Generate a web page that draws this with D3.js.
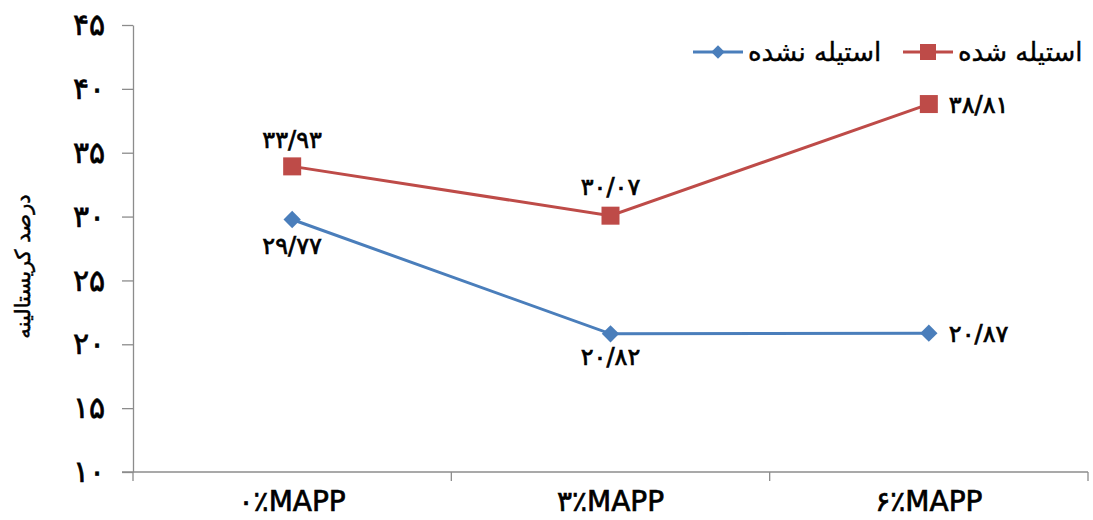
<!DOCTYPE html>
<html>
<head>
<meta charset="utf-8">
<script src="https://cdn.jsdelivr.net/npm/d3@7"></script>
<style>
  body { margin: 0; background: #fff; }
  svg { display: block; font-family: "DejaVu Sans", sans-serif; }
  .axis path, .axis line { stroke: #8c8c8c; stroke-width: 1.3; }
  .lbl { fill: #000; stroke: #000; stroke-width: 0.7; }
</style>
</head>
<body>
<svg id="chart" width="1093" height="520"></svg>
<script>
// categories and series
var categories = ['0%MAPP', '3%MAPP', '6%MAPP'];
var seriesNames = ['استیله نشده', 'استیله شده'];
var notAcetylated = [29.77, 20.82, 20.87];
var acetylated = [33.93, 30.07, 38.81];
var yTicks = [10, 15, 20, 25, 30, 35, 40, 45];
var yTitle = 'درصد کریستالینه';

// english digits -> persian digits
function fa(s) {
    return String(s).replace(/[0-9]/g, function (d) { return '۰۱۲۳۴۵۶۷۸۹'[+d]; })
        .replace('%', '٪').replace('.', '/');
}
function faNum(v) { return fa(v.toFixed(2)); }

var margin = {top: 25, right: 5, bottom: 48, left: 133};
var width = 1093, height = 520;

var svg = d3.select('#chart');

var x = d3.scaleBand()
    .domain(categories)
    .range([margin.left, width - margin.right]);

var y = d3.scaleLinear()
    .domain([10, 45])
    .range([height - margin.bottom, margin.top]);

// y axis
var yAxis = svg.append('g')
    .attr('class', 'axis')
    .attr('transform', 'translate(' + margin.left + ',0)')
    .call(d3.axisLeft(y).tickValues(yTicks).tickSize(11).tickSizeOuter(0).tickPadding(17)
        .tickFormat(function (d) { return fa(d); }));
yAxis.selectAll('text')
    .attr('class', 'lbl')
    .attr('font-size', 30);

// x axis
var xAxis = svg.append('g')
    .attr('class', 'axis')
    .attr('transform', 'translate(0,' + (height - margin.bottom) + ')')
    .call(d3.axisBottom(x).tickSize(0).tickSizeOuter(0).tickFormat(''));
xAxis.select('path').attr('d', 'M' + (margin.left - 11) + ',0H' + (width - margin.right));
// boundary ticks between categories
var bounds = categories.map(function (c) { return x(c); }).concat([x.range()[1]]);
xAxis.selectAll('.bnd').data(bounds).enter().append('line')
    .attr('class', 'bnd')
    .attr('x1', function (d) { return d; }).attr('x2', function (d) { return d; })
    .attr('y1', 0).attr('y2', 9);

svg.append('g').selectAll('text').data(categories).enter().append('text')
    .attr('class', 'lbl')
    .attr('x', function (d) { return x(d) + x.bandwidth() / 2; })
    .attr('y', height - margin.bottom + 39)
    .attr('text-anchor', 'middle')
    .attr('font-size', 28)
    .text(function (d) { return fa(d); });

// y title
svg.append('text')
    .attr('class', 'lbl')
    .attr('transform', 'translate(30,' + (margin.top + (height - margin.bottom - margin.top) / 2 + 18) + ') rotate(-90)')
    .attr('text-anchor', 'middle')
    .attr('font-size', 21)
    .style('stroke-width', 0.5)
    .text(yTitle);

var cx = function (d, i) { return x(categories[i]) + x.bandwidth() / 2; };
var line = d3.line()
    .x(function (d, i) { return cx(d, i); })
    .y(function (d) { return y(d); });

var blue = '#4a7ebb', red = '#be4b48';

// blue series
svg.append('path').datum(notAcetylated)
    .attr('d', line).attr('fill', 'none').attr('stroke', blue).attr('stroke-width', 3);
svg.append('g').selectAll('path').data(notAcetylated).enter().append('path')
    .attr('d', d3.symbol().type(d3.symbolSquare).size(150))
    .attr('transform', function (d, i) { return 'translate(' + cx(d, i) + ',' + y(d) + ') rotate(45)'; })
    .attr('fill', blue);
// red series
svg.append('path').datum(acetylated)
    .attr('d', line).attr('fill', 'none').attr('stroke', red).attr('stroke-width', 3);
svg.append('g').selectAll('rect').data(acetylated).enter().append('rect')
    .attr('x', function (d, i) { return cx(d, i) - 9; })
    .attr('y', function (d) { return y(d) - 9; })
    .attr('width', 18).attr('height', 18)
    .attr('fill', red);

// data labels
var labelPos = [
    {dx: 0, dy: -18, anchor: 'middle'},
    {dx: 0, dy: -21, anchor: 'middle'},
    {dx: 20, dy: 9, anchor: 'start'}
];
var blueLabelPos = [
    {dx: 0, dy: 34, anchor: 'middle'},
    {dx: 0, dy: 31, anchor: 'middle'},
    {dx: 20, dy: 9, anchor: 'start'}
];
function labels(data, pos) {
    svg.append('g').selectAll('text').data(data).enter().append('text')
        .attr('class', 'lbl')
        .attr('x', function (d, i) { return cx(d, i) + pos[i].dx; })
        .attr('y', function (d, i) { return y(d) + pos[i].dy; })
        .attr('text-anchor', function (d, i) { return pos[i].anchor; })
        .attr('font-size', 24)
        .text(function (d) { return faNum(d); });
}
labels(acetylated, labelPos);
labels(notAcetylated, blueLabelPos);

// legend
var legend = svg.append('g').attr('transform', 'translate(0,52)');
var leg = [
    {name: seriesNames[0], color: blue, x: 693, marker: 'diamond'},
    {name: seriesNames[1], color: red, x: 903, marker: 'square'}
];
leg.forEach(function (l) {
    legend.append('line')
        .attr('x1', l.x).attr('x2', l.x + 50).attr('y1', 0).attr('y2', 0)
        .attr('stroke', l.color).attr('stroke-width', 3);
    if (l.marker === 'square') {
        legend.append('rect').attr('x', l.x + 17).attr('y', -8).attr('width', 16).attr('height', 16).attr('fill', l.color);
    } else {
        legend.append('path')
            .attr('d', d3.symbol().type(d3.symbolSquare).size(90))
            .attr('transform', 'translate(' + (l.x + 25) + ',0) rotate(45)')
            .attr('fill', l.color);
    }
    legend.append('text')
        .attr('class', 'lbl')
        .attr('x', l.x + 55).attr('y', 9)
        .attr('font-size', 26)
        .style('stroke-width', 0.4)
        .attr('text-anchor', 'start')
        .text(l.name);
});
</script>
</body>
</html>
